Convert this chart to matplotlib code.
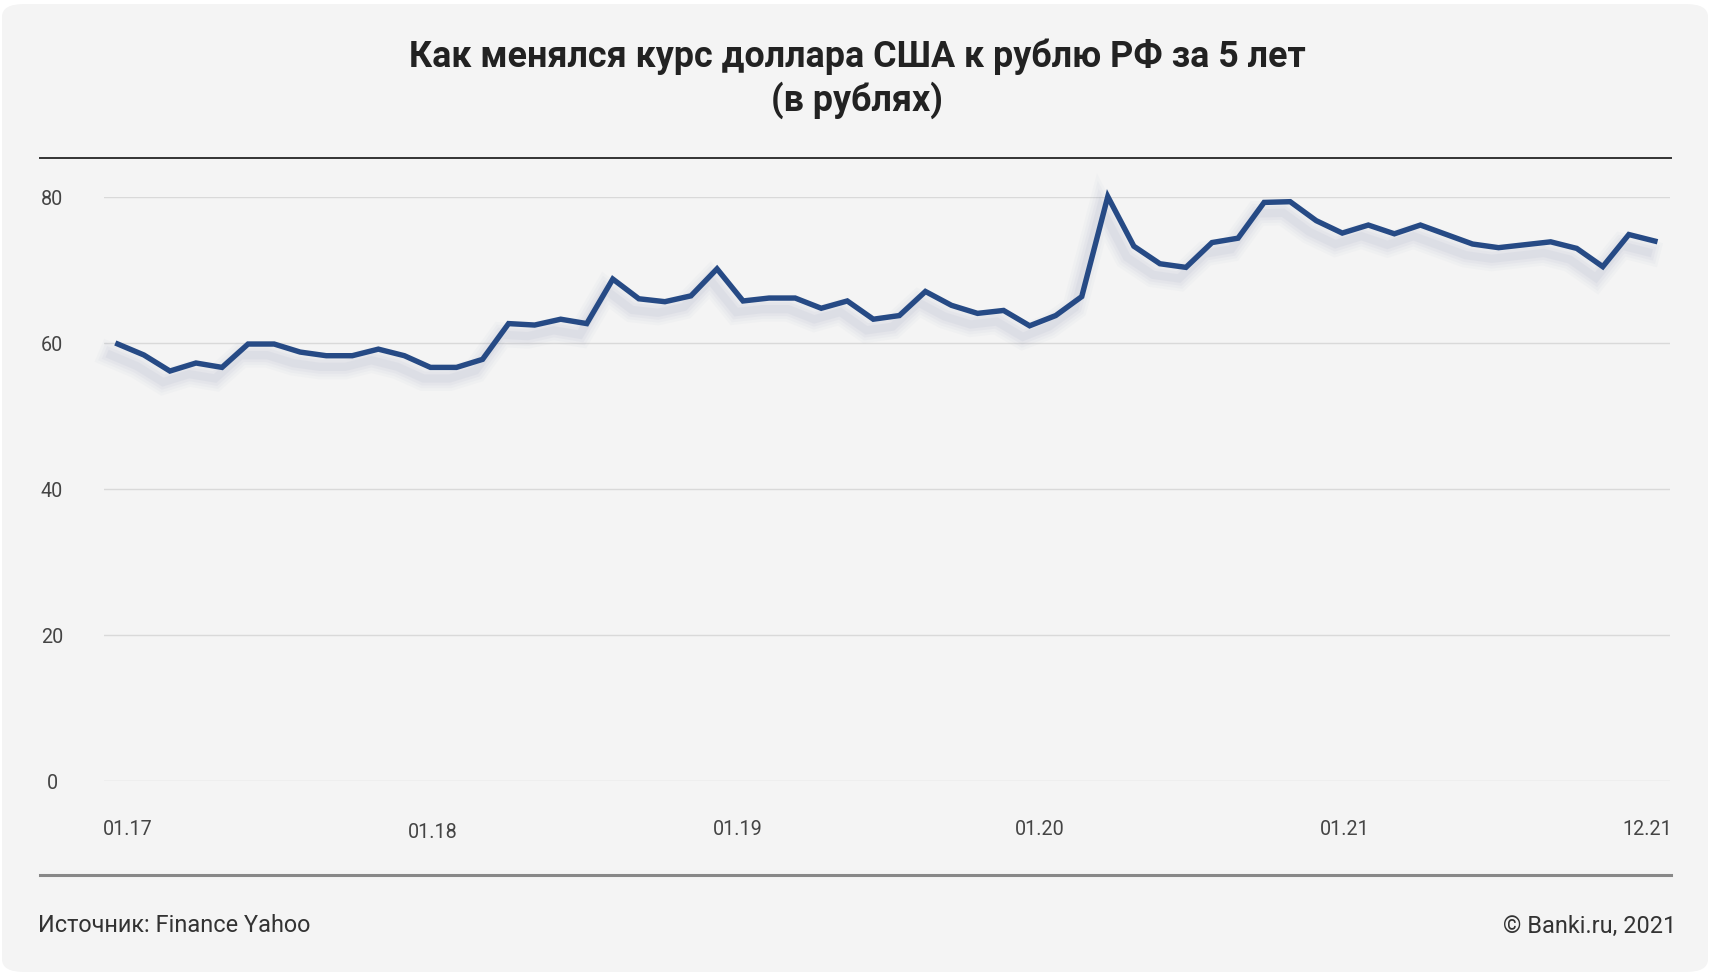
import matplotlib
matplotlib.use("Agg")
import matplotlib.pyplot as plt
import matplotlib.patheffects as pe
from matplotlib.patches import FancyBboxPatch
from matplotlib.lines import Line2D
from matplotlib.transforms import ScaledTranslation

plt.rcParams['font.family'] = ['Roboto', 'DejaVu Sans']

# monthly USD/RUB, 01.2017 .. 12.2021
months = list(range(60))
rate = [
    59.9, 58.4, 56.2, 57.3, 56.7, 59.9, 59.9, 58.8, 58.3, 58.3, 59.2, 58.3,
    56.7, 56.7, 57.8, 62.7, 62.5, 63.3, 62.7, 68.8, 66.1, 65.7, 66.5, 70.2,
    65.8, 66.2, 66.2, 64.8, 65.8, 63.3, 63.8, 67.1, 65.2, 64.1, 64.5, 62.4,
    63.8, 66.4, 80.1, 73.3, 70.9, 70.4, 73.8, 74.4, 79.3, 79.4, 76.8, 75.1,
    76.2, 75.0, 76.2, 74.9, 73.6, 73.1, 73.5, 73.9, 73.0, 70.5, 74.9, 74.0,
]
x_labels = ["01.17", "01.18", "01.19", "01.20", "01.21", "12.21"]
y_ticks = [0, 20, 40, 60, 80]

title_1 = "Как менялся курс доллара США к рублю РФ за 5 лет"
title_2 = "(в рублях)"
source = "Источник: Finance Yahoo"
copyright_txt = "© Banki.ru, 2021"

W, H = 1715, 974
fig = plt.figure(figsize=(W / 100, H / 100), dpi=100, facecolor="white")

# rounded grey card
card = FancyBboxPatch((2 / W, 2 / H), 1706 / W, 968 / H,
                      boxstyle="round,pad=0,rounding_size=0.013",
                      transform=fig.transFigure, facecolor="#f4f4f4",
                      edgecolor="none", zorder=-5)
fig.patches.append(card)

fig.text(0.5, 1 - 57 / H, title_1, ha="center", va="center", fontsize=25.8,
         fontweight="bold", color="#222222")
fig.text(0.5, 1 - 100 / H, title_2, ha="center", va="center", fontsize=25.8,
         fontweight="bold", color="#222222")

# rules above and below the chart
fig.add_artist(Line2D([40 / W, 1671 / W], [1 - 157.5 / H] * 2,
                      transform=fig.transFigure, color="#333333", lw=1.4))
fig.add_artist(Line2D([40 / W, 1671 / W], [1 - 875 / H] * 2,
                      transform=fig.transFigure, color="#888888", lw=2.2))

fig.text(38 / W, 1 - 926 / H, source, ha="left", va="center",
         fontsize=16.9, color="#333333")
fig.text(1676 / W, 1 - 926 / H, copyright_txt, ha="right", va="center",
         fontsize=16.9, color="#333333")

left, right = 104 / W, 1670 / W
bottom, top = 1 - 781.3 / H, 1 - 197.3 / H
ax = fig.add_axes([left, bottom, right - left, top - bottom])
ax.set_facecolor("none")

# soft blurred shadow under the line
shadow = [pe.SimpleLineShadow(offset=(-5, -8), shadow_color="#7e8db0",
                              alpha=a, linewidth=w)
          for w, a in ((18, 0.035), (14, 0.045), (10, 0.055), (6, 0.07))]
ax.plot(months, rate, color="#264a85", lw=3.9, solid_joinstyle="miter",
        clip_on=False, zorder=3, path_effects=shadow + [pe.Normal()])

ax.set_xlim(-0.53, 59.58)
ax.set_ylim(0, 80)
ax.set_yticks(y_ticks)
ax.set_yticklabels([str(v) for v in y_ticks])
ax.grid(axis="y", color="#d9d9d9", lw=1)
ax.set_axisbelow(True)
for s in ax.spines.values():
    s.set_visible(False)

ax.set_xticks([0.4, 12.1, 23.8, 35.4, 47.1, 58.7])
ax.set_xticklabels(x_labels)
ax.tick_params(axis="both", length=0, labelsize=14.2, labelcolor="#444444")
ax.tick_params(axis="y", pad=37.4)
ax.tick_params(axis="x", pad=28)
for lab in ax.get_yticklabels():
    lab.set_horizontalalignment("center")
# second label sits a little lower in the original
lab18 = ax.get_xticklabels()[1]
lab18.set_transform(lab18.get_transform() + ScaledTranslation(0, -3 / 100, fig.dpi_scale_trans))

fig.savefig("out.png", dpi=100, facecolor="white")
